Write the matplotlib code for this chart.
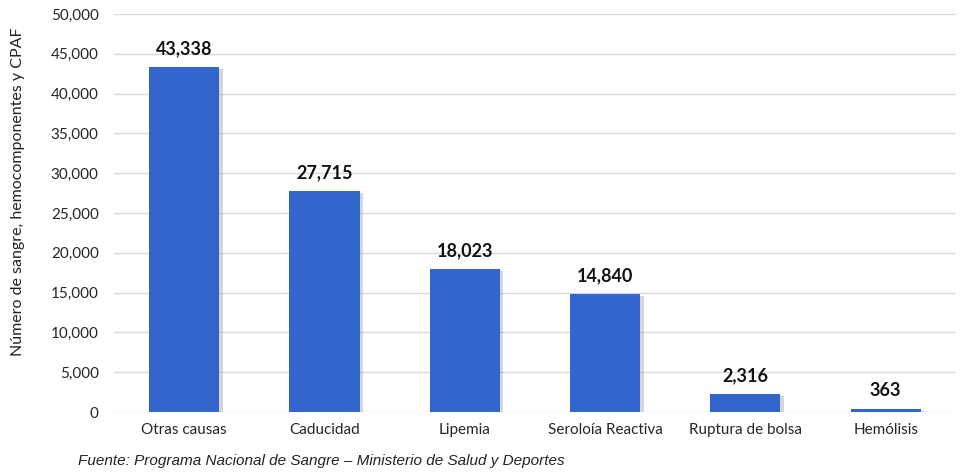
import matplotlib.pyplot as plt
import matplotlib.patheffects as pe
from matplotlib.ticker import FuncFormatter

# Datos
causas = ['Otras causas', 'Caducidad', 'Lipemia', 'Seroloía Reactiva',
          'Ruptura de bolsa', 'Hemólisis']
cantidades = [43338, 27715, 18023, 14840, 2316, 363]

plt.rcParams['font.family'] = ['Lato', 'DejaVu Sans']

fig = plt.figure(figsize=(9.61, 4.74), dpi=100)
ax = fig.add_axes([0.1186, 0.1308, 0.876, 0.8397])

barras = ax.bar(causas, cantidades, width=0.5, color='#3366CC', zorder=3)
for b in barras:
    b.set_path_effects([pe.SimplePatchShadow(offset=(2.5, -1.5), shadow_rgbFace='#999999', alpha=0.4),
                        pe.Normal()])

for b, v in zip(barras, cantidades):
    ax.annotate(f'{v:,}', (b.get_x() + b.get_width() / 2, v),
                xytext=(0, 7), textcoords='offset points',
                ha='center', va='bottom', fontsize=13, fontweight='bold', color='#111111')

ax.set_xlim(-0.5, 5.5)
ax.set_ylim(0, 50000)
ax.set_yticks(range(0, 50001, 5000))
ax.yaxis.set_major_formatter(FuncFormatter(lambda x, p: f'{int(x):,}'))
ax.grid(axis='y', color='#d9d9d9', linewidth=1, zorder=0)
for s in ax.spines.values():
    s.set_visible(False)
ax.tick_params(axis='both', length=0, labelsize=11, colors='#262626')
ax.tick_params(axis='y', pad=11)
ax.tick_params(axis='x', pad=8)

# etiqueta del eje y algo desplazada hacia arriba, como en el original
fig.text(0.019, 0.595, 'Número de sangre, hemocomponentes y CPAF', rotation=90,
         ha='center', va='center', fontsize=11.5, color='#222222')

fig.text(0.081, 0.018, 'Fuente: Programa Nacional de Sangre – Ministerio de Salud y Deportes',
         fontsize=11, style='italic', family='Liberation Sans', color='#222222')

fig.savefig('out.png', dpi=100)
